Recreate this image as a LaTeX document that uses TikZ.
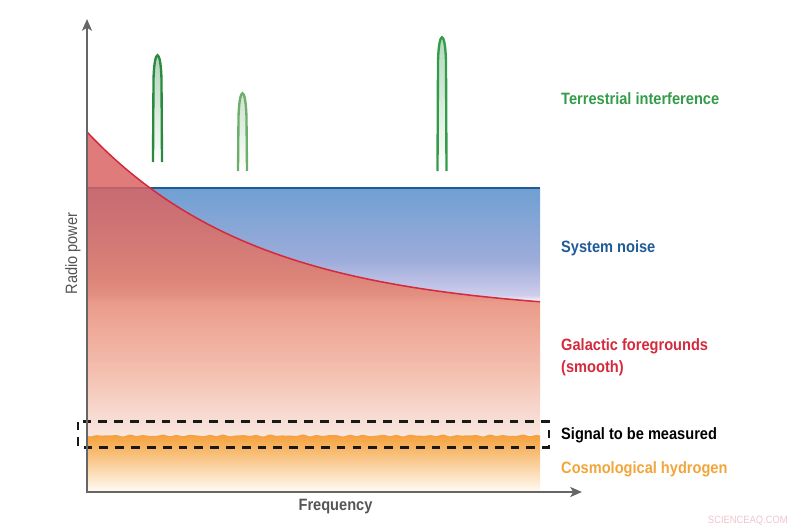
\documentclass[tikz,border=0pt]{standalone}
\usepackage{fontspec}
\setmainfont{Liberation Sans}
\newfontfamily\lblfont{Liberation Sans}[FakeStretch=0.89]
\usetikzlibrary{arrows.meta}
\definecolor{axisgray}{HTML}{666666}
\definecolor{textgray}{HTML}{555555}
\definecolor{termgreen}{HTML}{349B4A}
\definecolor{darkgreen}{HTML}{2A8A40}
\definecolor{lightgreen}{HTML}{6DAE6D}
\definecolor{noiseblue}{HTML}{1F5B96}
\definecolor{galred}{HTML}{D42A3C}
\definecolor{hydorange}{HTML}{F2A53A}
\definecolor{hydtop}{HTML}{F5A03A}
\definecolor{hydbot}{HTML}{FFFAF3}
\definecolor{markpink}{HTML}{F0C4CE}
% path box runs from 25bp (bottom) to 75bp (top)
\pgfdeclareverticalshading{noisefade}{100bp}{
  color(0bp)=(white);
  color(25bp)=(white);
  color(28bp)=(rgb,255:red,207;green,205;blue,236);
  color(43bp)=(rgb,255:red,158;green,172;blue,218);
  color(75bp)=(rgb,255:red,111;green,160;blue,210);
  color(100bp)=(rgb,255:red,111;green,160;blue,210)}
\pgfdeclareverticalshading{galfade}{100bp}{
  color(0bp)=(rgb,255:red,249;green,230;blue,223);
  color(25bp)=(rgb,255:red,249;green,230;blue,223);
  color(36bp)=(rgb,255:red,242;green,181;blue,162);
  color(51bp)=(rgb,255:red,228;green,124;blue,103);
  color(64bp)=(rgb,255:red,216;green,100;blue,99);
  color(75bp)=(rgb,255:red,220;green,100;blue,102);
  color(100bp)=(rgb,255:red,220;green,100;blue,102)}
\tikzset{
  lbl/.style={anchor=base west, inner sep=0pt, font=\lblfont\bfseries\fontsize{14}{16}\selectfont},
  axis/.style={axisgray, line width=1.7pt, -{Stealth[length=10pt, width=8.5pt, inset=2.5pt]}},
  signalbox/.style={black!90, line width=1.9pt, dash pattern=on 7.5pt off 6pt}
}
% spike: colour, centre x, top y, bottom y
\def\spike[#1](#2:#3:#4){
  \shade[top color=#1!40, bottom color=white] ({#2-4.5},#4) -- ({#2-4},{#3+25}) .. controls ({#2-3.3},{#3-8}) and ({#2+3.3},{#3-8}) .. ({#2+4},{#3+25}) -- ({#2+4.5},#4) -- cycle;
  \draw[#1, line width=2pt] ({#2-4.5},#4) -- ({#2-4},{#3+25}) .. controls ({#2-3.3},{#3-8}) and ({#2+3.3},{#3-8}) .. ({#2+4},{#3+25}) -- ({#2+4.5},#4);
}

\begin{document}
\begin{tikzpicture}[x=0.03cm, y=-0.03cm]
		%%%%% START %%%%%
		\useasboundingbox (0, 0) rectangle (800, 530);
		
		% system noise
		\shade[shading=noisefade] (87, 188) rectangle (540, 302);
		\draw[noiseblue, line width=1.3pt] (87, 188) -- (540, 188);
		
		% galactic foregrounds
		\shade[shading=galfade, opacity=0.85] (87, 132) -- plot[domain=87:540, samples=80] (\x, {315-183*exp(-0.0058*(\x-87))}) -- (540, 440) -- (87, 440) -- cycle;
		\draw[galred, line width=1.3pt] plot[domain=87:540, samples=80] (\x, {315-183*exp(-0.0058*(\x-87))});
		
		% cosmological hydrogen
		\shade[top color=hydtop, bottom color=hydbot] (87, 491) -- (87, 436) -- plot[domain=87:540, samples=200] (\x, {435.5+0.5*sin(23*(\x-87))+0.35*sin(31*(\x-87)+30)+0.25*sin(13*(\x-87))}) -- (540, 491) -- cycle;
		
		\draw[signalbox] (78, 421.5) rectangle (549, 447.5);
		
		% terrestrial interference
		\spike[darkgreen](157.5:55:162);
		\spike[lightgreen](242.5:93:171);
		\spike[termgreen](442:37:171);
		
		% axes
		\draw[axis] (87, 492) -- (87, 19);
		\draw[axis] (86, 492) -- (582, 492);
		
		\node[lbl, termgreen] (terr) at (561, 104) {Terrestrial interference};
		\node[lbl, noiseblue] (noise) at (561, 252) {System noise};
		\node[lbl, galred] (galac) at (561, 350) {Galactic foregrounds};
		\node[lbl, galred] (smooth) at (561, 372) {(smooth)};
		\node[lbl, black] (signal) at (561, 439.5) {Signal to be measured};
		\node[lbl, hydorange] (hydro) at (561, 473) {Cosmological hydrogen};
		\node[lbl, textgray, anchor=base] (freq) at (335.5, 510.5) {Frequency};
		\node[lbl, textgray, anchor=base, rotate=90, font=\lblfont\fontsize{14}{16}\selectfont] (power) at (77, 253.5) {Radio power};
		\node[anchor=base east, inner sep=0pt, markpink, font=\lblfont\fontsize{9}{10}\selectfont] (mark) at (788, 523) {SCIENCEAQ.COM};
		%%%%% END %%%%%
\end{tikzpicture}
\end{document}
